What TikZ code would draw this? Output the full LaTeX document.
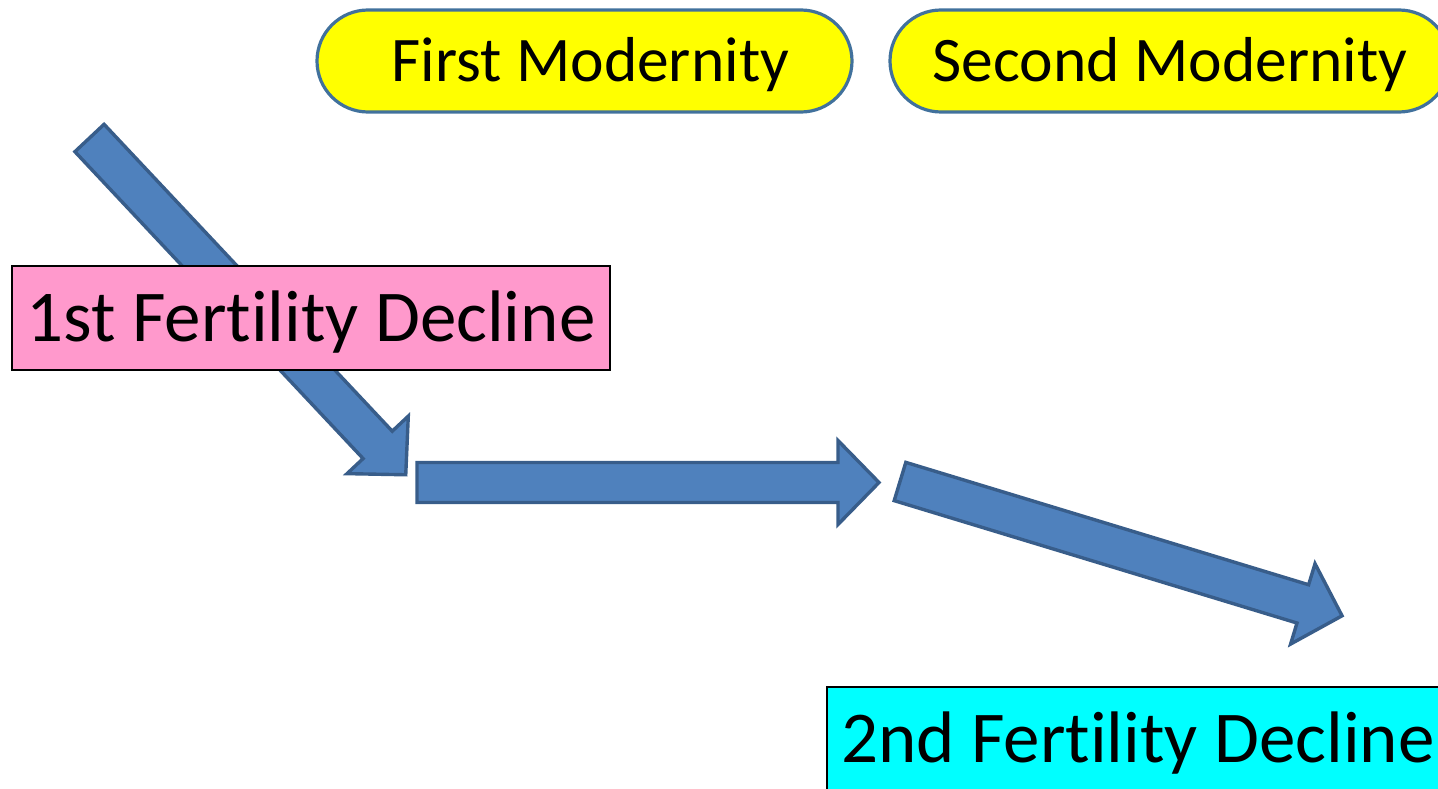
\documentclass[tikz,border=0pt]{standalone}
\usepackage{fontspec}
\setmainfont{Carlito}[Ligatures=NoCommon]
\definecolor{arrfill}{HTML}{4F81BD}
\definecolor{arrline}{HTML}{385D8A}
\definecolor{ylwline}{RGB}{65,113,156}
\definecolor{pinkfill}{HTML}{FF99CC}
\definecolor{cyanfill}{HTML}{00FFFF}
\definecolor{ylwfill}{HTML}{FFFF00}
\tikzset{
  blockarrow/.pic={
    \draw[fill=arrfill, draw=arrline, line width=3.4pt, line join=miter]
      (0,-20) -- (421,-20) -- (421,-42) -- (462,0) -- (421,42) -- (421,20) -- (0,20) -- cycle;
  },
  ybox/.style={draw=ylwline, fill=ylwfill, line width=3.2pt, rounded corners=51pt,
    minimum height=102pt, inner sep=0pt, text height=41pt, text depth=0pt,
    font=\fontsize{63.5}{76}\selectfont},
  declbox/.style={draw=black, line width=1.3pt, minimum height=104pt, inner sep=0pt,
    text height=47pt, text depth=0pt, font=\fontsize{73}{87}\selectfont},
}
\begin{document}
\begin{tikzpicture}[x=1pt, y=-1pt]
\useasboundingbox (0,0) rectangle (1438,789);
% yellow modernity boxes
\node[ybox, minimum width=535pt] (first) at (584.5,61) {\hspace*{12pt}First Modernity};
\node[ybox, minimum width=560pt] (second) at (1170,61) {Second Modernity};
% arrows
\pic[rotate=-46.8] at (89.5,138) {blockarrow};
\pic at (417,482.5) {blockarrow};
\pic[rotate=-16.9] at (900,481.5) {blockarrow};
% decline boxes
\node[declbox, fill=pinkfill, minimum width=598pt] (decl1) at (311,318) {1st Fertility Decline};
\node[declbox, fill=cyanfill, minimum width=622pt] (decl2) at (1138,739) {2nd Fertility Decline};
\end{tikzpicture}
\end{document}
